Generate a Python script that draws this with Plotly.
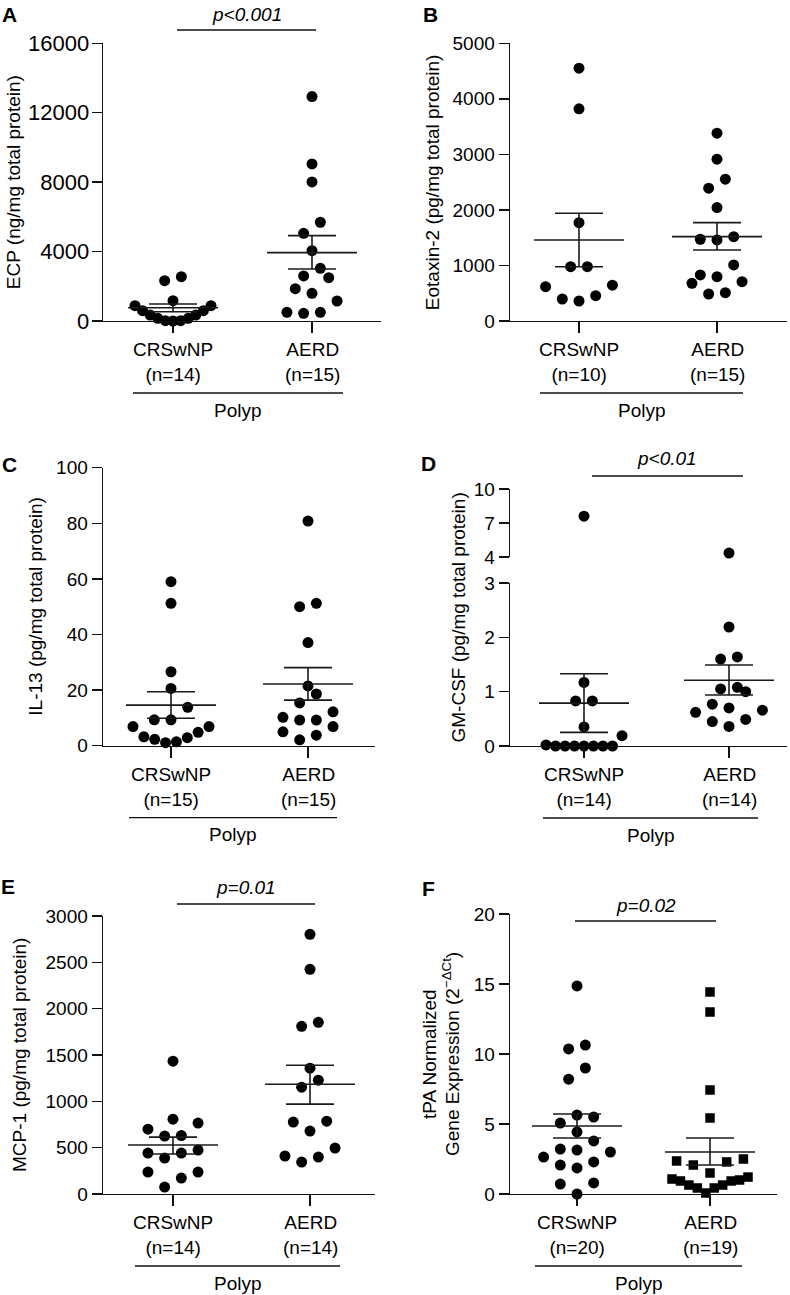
import plotly.graph_objects as go

W, H = 790, 1295
FONT = "Liberation Sans, Arial, Helvetica, sans-serif"
FS = 19

groups = ["CRSwNP", "AERD"]
region_label = "Polyp"

# ---------------- data ----------------
# A  ECP (ng/mg total protein)
a_crs = [2555, 2324, 1171, 884, 884, 596, 596, 346, 346, 154, 154, 20, 0, 20]
a_aerd = [12928, 9049, 8012, 5689, 5054, 4052, 3037, 2594, 2497, 1862, 1595, 1153, 500, 442, 500]
a_mean = [767, 3937]
a_sem_hi = [980, 4917]
a_sem_lo = [537, 2997]
a_n = [14, 15]
a_ticks = [0, 4000, 8000, 12000, 16000]

# B  Eotaxin-2 (pg/mg total protein)
b_crs = [4553, 3820, 1771, 978, 978, 645, 618, 456, 396, 360]
b_aerd = [3382, 2913, 2553, 2391, 2042, 1519, 1459, 1472, 1009, 829, 798, 679, 708, 486, 510]
b_mean = [1459, 1519]
b_sem_hi = [1940, 1771]
b_sem_lo = [978, 1279]
b_n = [10, 15]
b_ticks = [0, 1000, 2000, 3000, 4000, 5000]

# C  IL-13 (pg/mg total protein)
c_crs = [59.0, 51.2, 26.6, 20.6, 13.8, 9.3, 9.3, 6.9, 6.9, 4.8, 3.2, 2.3, 1.1, 1.4, 2.9]
c_aerd = [80.8, 51.2, 50.0, 37.1, 21.5, 18.6, 15.4, 12.2, 9.2, 9.2, 10.2, 6.9, 5.0, 3.8, 2.1]
c_mean = [14.6, 22.2]
c_sem_hi = [19.4, 28.1]
c_sem_lo = [9.9, 16.4]
c_n = [15, 15]
c_ticks = [0, 20, 40, 60, 80, 100]

# D  GM-CSF (pg/mg total protein)  (broken axis 0-3 / 4-10)
d_crs = [7.6, 1.17, 0.83, 0.83, 0.35, 0.19, 0, 0, 0, 0, 0, 0, 0, 0.02]
d_aerd = [4.35, 2.19, 1.64, 1.6, 1.05, 1.08, 1.0, 0.77, 0.70, 0.66, 0.62, 0.49, 0.45, 0.36]
d_mean = [0.79, 1.21]
d_sem_hi = [1.33, 1.49]
d_sem_lo = [0.25, 0.94]
d_n = [14, 14]
d_ticks_low = [0, 1, 2, 3]
d_ticks_high = [4, 7, 10]

# E  MCP-1 (pg/mg total protein)
e_crs = [1433, 808, 765, 700, 625, 630, 474, 442, 388, 442, 237, 172, 237, 75]
e_aerd = [2802, 2425, 1853, 1810, 1358, 1228, 1153, 786, 776, 679, 496, 410, 399, 345]
e_mean = [528, 1185]
e_sem_hi = [614, 1390]
e_sem_lo = [431, 970]
e_n = [14, 14]
e_ticks = [0, 500, 1000, 1500, 2000, 2500, 3000]

# F  tPA normalized gene expression (2^-dCt)
f_crs = [14.86, 10.64, 10.36, 9.0, 8.2, 5.64, 5.5, 5.07, 4.43, 3.79, 3.14, 3.21, 3.0,
         2.64, 2.07, 2.29, 1.86, 0.79, 0.71, 0.0]
f_aerd = [14.43, 13.0, 7.43, 5.43, 2.5, 2.29, 2.36, 2.07, 1.5, 1.21, 1.07, 0.93, 0.93,
          1.0, 0.64, 0.64, 0.43, 0.43, 0.07]
f_mean = [4.86, 3.0]
f_sem_hi = [5.71, 4.0]
f_sem_lo = [4.0, 2.07]
f_n = [20, 19]
f_ticks = [0, 5, 10, 15, 20]

# ---------------- helpers ----------------
def X(px):
    return px / W


def Y(py):
    return 1 - py / H


def swarm_offsets(ypx, bin_h=16.5, s=16.7, max_half=38.0):
    order = sorted(range(len(ypx)), key=lambda i: ypx[i])
    dx = [0.0] * len(ypx)
    i = 0
    while i < len(order):
        start = ypx[order[i]]
        j = i
        while j < len(order) and ypx[order[j]] - start < bin_h:
            j += 1
        members = order[i:j]
        n = len(members)
        sp = s if n == 1 else min(s, 2 * max_half / (n - 1))
        for k, m in enumerate(members):
            if n % 2 == 1:
                slot = 0 if k == 0 else ((k + 1) // 2) * (-1 if k % 2 == 1 else 1)
            else:
                slot = (k // 2 + 0.5) * (-1 if k % 2 == 0 else 1)
            dx[m] = slot * sp
        i = j
    return dx


panels = [
    dict(idx=1, letter="A", vals=[a_crs, a_aerd], mean=a_mean, hi=a_sem_hi, lo=a_sem_lo, n=a_n,
         ticks=a_ticks, ymax=16000, titles=[("ECP (ng/mg total protein)", 13)], tickfs=22,
         left=103, right=381, c0=173, c1=312, bottom=321, top=43.3,
         letter_xy=(9, 14.5), polyp=(133, 343),
         pval=("p&lt;0.001", 247, 14, 177, 316, 30), marker="circle"),
    dict(idx=2, letter="B", vals=[b_crs, b_aerd], mean=b_mean, hi=b_sem_hi, lo=b_sem_lo, n=b_n,
         ticks=b_ticks, ymax=5000, titles=[("Eotaxin-2 (pg/mg total protein)", 432)],
         left=510, right=787, c0=579, c1=717, bottom=321, top=43.3,
         letter_xy=(430, 14.5), polyp=(540, 743),
         pval=None, marker="circle"),
    dict(idx=3, letter="C", vals=[c_crs, c_aerd], mean=c_mean, hi=c_sem_hi, lo=c_sem_lo, n=c_n,
         ticks=c_ticks, ymax=100, titles=[("IL-13 (pg/mg total protein)", 36)],
         left=103, right=375, c0=171, c1=308, bottom=745.7, top=467.7,
         letter_xy=(9, 465), polyp=(129, 337),
         pval=None, marker="circle"),
    dict(idx=4, letter="D", vals=[d_crs, d_aerd], mean=d_mean, hi=d_sem_hi, lo=d_sem_lo, n=d_n,
         ticks=d_ticks_low, ymax=3, titles=[("GM-CSF (pg/mg total protein)", 458)],
         left=510, right=787, c0=584, c1=729, bottom=746, top=583,
         brk=dict(ticks=d_ticks_high, lo=4, hi=10, bottom=557, top=489, idx=7),
         letter_xy=(428, 463), polyp=(543, 758),
         pval=("p&lt;0.01", 667, 458, 592, 743, 476), marker="circle"),
    dict(idx=5, letter="E", vals=[e_crs, e_aerd], mean=e_mean, hi=e_sem_hi, lo=e_sem_lo, n=e_n,
         ticks=e_ticks, ymax=3000, titles=[("MCP-1 (pg/mg total protein)", 19)],
         left=103, right=375, c0=173, c1=310, bottom=1194, top=916,
         letter_xy=(8, 886), polyp=(135, 340),
         pval=("p=0.01", 246, 887, 177, 315, 904), marker="circle"),
    dict(idx=6, letter="F", vals=[f_crs, f_aerd], mean=f_mean, hi=f_sem_hi, lo=f_sem_lo, n=f_n,
         ticks=f_ticks, ymax=20,
         titles=[("tPA Normalized", 429),
                 ("Gene Expression (2<sup>\u2212\u0394Ct</sup>)", 451)],
         left=510, right=777, c0=577, c1=710, bottom=1194, top=914,
         letter_xy=(428, 888), polyp=(535, 742),
         pval=("p=0.02", 646, 905, 575, 716, 921), marker=["circle", "square"]),
]

fig = go.Figure()
layout = dict(
    width=W, height=H, margin=dict(l=0, r=0, t=0, b=0, autoexpand=False),
    paper_bgcolor="white", plot_bgcolor="white", showlegend=False,
    font=dict(family=FONT, size=FS, color="black"),
)
annotations = []
shapes = []

LINE = "#111111"
AXW = 1.4


def ann(text, x, y, size=FS, angle=0):
    annotations.append(dict(text=text, xref="paper", yref="paper", x=X(x), y=Y(y),
                            xanchor="center", yanchor="middle", showarrow=False,
                            textangle=angle, font=dict(size=size)))


for p in panels:
    i = p["idx"]
    u = p["c1"] - p["c0"]
    xr = [(p["left"] - p["c0"]) / u, (p["right"] - p["c0"]) / u]
    xs = "" if i == 1 else str(i)
    tfs = p.get("tickfs", FS)
    layout["xaxis" + xs] = dict(
        domain=[X(p["left"]), X(p["right"])], range=xr, anchor="y" + xs,
        showline=True, linecolor=LINE, linewidth=AXW, ticks="outside", ticklen=11,
        tickwidth=AXW, tickcolor=LINE, tickvals=[0, 1], showticklabels=False,
        showgrid=False, zeroline=False, fixedrange=True,
    )
    layout["yaxis" + xs] = dict(
        domain=[Y(p["bottom"]), Y(p["top"])], range=[0, p["ymax"]], anchor="x" + xs,
        showline=True, linecolor=LINE, linewidth=AXW, ticks="outside", ticklen=10,
        tickwidth=AXW, tickcolor=LINE, tickvals=p["ticks"], tickformat="d",
        showgrid=False, zeroline=False, tickfont=dict(size=tfs), fixedrange=True,
        ticklabelstandoff=-2 if tfs > FS else 0,
    )
    brk = p.get("brk")
    if brk:
        j = str(brk["idx"])
        layout["xaxis" + j] = dict(
            domain=[X(p["left"]), X(p["right"])], range=xr, anchor="y" + j,
            visible=False, fixedrange=True,
        )
        layout["yaxis" + j] = dict(
            domain=[Y(brk["bottom"]), Y(brk["top"])], range=[brk["lo"], brk["hi"]],
            anchor="x" + j, showline=True, linecolor=LINE, linewidth=AXW,
            ticks="outside", ticklen=10, tickwidth=AXW, tickcolor=LINE,
            tickvals=brk["ticks"], showgrid=False, zeroline=False,
            tickfont=dict(size=FS), fixedrange=True,
        )

    def to_px(v, p=p, brk=brk):
        span = p["bottom"] - p["top"]
        if brk and v > p["ymax"]:
            return (p["bottom"] - brk["bottom"]) + (v - brk["lo"]) / (brk["hi"] - brk["lo"]) * (brk["bottom"] - brk["top"])
        return v / p["ymax"] * span

    for g, vals in enumerate(p["vals"]):
        sym = p["marker"][g] if isinstance(p["marker"], list) else p["marker"]
        size = 9.5 if sym == "square" else 11
        dx = swarm_offsets([to_px(v) for v in vals])
        xs_pts = [g + d / u for d in dx]
        low = [(x, v) for x, v in zip(xs_pts, vals) if not (brk and v > p["ymax"])]
        fig.add_trace(go.Scatter(
            x=[a for a, _ in low], y=[b for _, b in low], mode="markers",
            xaxis="x" + xs, yaxis="y" + xs,
            marker=dict(symbol=sym, size=size, color="black", line=dict(width=0)),
            cliponaxis=False, hoverinfo="skip"))
        if brk:
            high = [(x, v) for x, v in zip(xs_pts, vals) if v > p["ymax"]]
            fig.add_trace(go.Scatter(
                x=[a for a, _ in high], y=[b for _, b in high], mode="markers",
                xaxis="x" + str(brk["idx"]), yaxis="y" + str(brk["idx"]),
                marker=dict(symbol=sym, size=size, color="black", line=dict(width=0)),
                cliponaxis=False, hoverinfo="skip"))
        # mean +/- SEM
        mw, cw = 45 / u, 24 / u
        m, hi, lo = p["mean"][g], p["hi"][g], p["lo"][g]
        lx = [g - mw, g + mw, None, g - cw, g + cw, None, g - cw, g + cw, None, g, g]
        ly = [m, m, None, hi, hi, None, lo, lo, None, lo, hi]
        fig.add_trace(go.Scatter(
            x=lx, y=ly, mode="lines", xaxis="x" + xs, yaxis="y" + xs,
            line=dict(color="#1a1a1a", width=1.6), cliponaxis=False, hoverinfo="skip"))

        # category label (two lines)
        cx = p["c0"] + g * u
        ann(f"{groups[g]}<br>(n={p['n'][g]})", cx, p["bottom"] + 41)

    # y-axis title(s)
    ymid = (p["bottom"] + (brk["top"] if brk else p["top"])) / 2
    for t, tx in p["titles"]:
        ann(t, tx, ymid, angle=-90)
    # panel letter
    ann(f"<b>{p['letter']}</b>", p["letter_xy"][0], p["letter_xy"][1], size=21)
    # Polyp bracket
    x0, x1 = p["polyp"]
    ly_ = p["bottom"] + 72
    shapes.append(dict(type="line", xref="paper", yref="paper", x0=X(x0), x1=X(x1),
                       y0=Y(ly_), y1=Y(ly_), line=dict(color=LINE, width=1.3)))
    ann(region_label, (x0 + x1) / 2, p["bottom"] + 89)
    # p-value bracket
    if p["pval"]:
        txt, tx, tyy, px0, px1, py = p["pval"]
        shapes.append(dict(type="line", xref="paper", yref="paper", x0=X(px0), x1=X(px1),
                           y0=Y(py), y1=Y(py), line=dict(color=LINE, width=1.3)))
        ann(f"<i>{txt}</i>", tx, tyy)

layout["annotations"] = annotations
layout["shapes"] = shapes
fig.update_layout(**layout)
fig.write_html("out.html",
               config={"displayModeBar": False, "staticPlot": True},
               post_script="document.body.style.margin='0';document.body.style.padding='0';")
